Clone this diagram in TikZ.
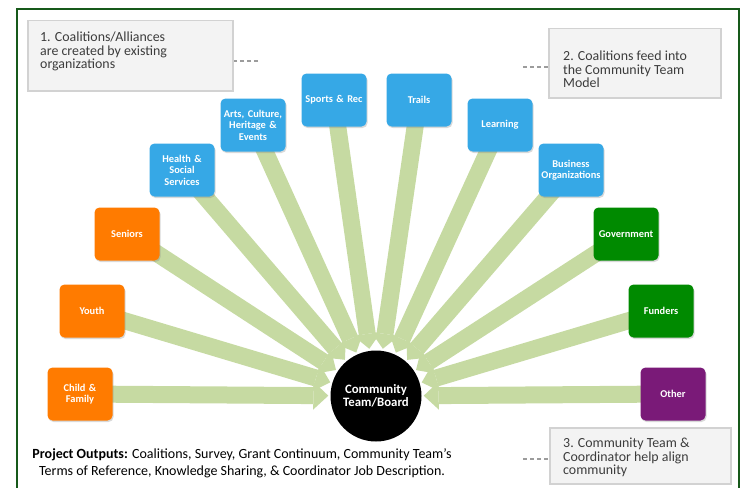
\documentclass[tikz,border=0pt]{standalone}
\usepackage{fontspec}
\setmainfont{Carlito}
\usetikzlibrary{arrows.meta,shadows,backgrounds}
\definecolor{framegreen}{HTML}{17591A}
\definecolor{orangebox}{HTML}{FF7B00}
\definecolor{bluebox}{HTML}{36A8E6}
\definecolor{greenbox}{HTML}{008A00}
\definecolor{purplebox}{HTML}{7A1A78}
\definecolor{feedgreen}{HTML}{C6DAA2}
\definecolor{notefill}{HTML}{F3F3F3}
\definecolor{noteline}{HTML}{D2D2D2}
\definecolor{notefont}{HTML}{3C3C3C}
\definecolor{leadgray}{HTML}{9C9C9C}

\begin{document}
\begin{tikzpicture}[x=1pt,y=-1pt,
  grp/.style={rounded corners=5pt, minimum width=65pt, minimum height=53pt,
    text width=63pt, align=center, inner sep=1pt, text=white,
    font=\fontsize{10.4}{11.5}\selectfont\bfseries,
    drop shadow={shadow xshift=1pt, shadow yshift=-1.5pt, opacity=.3}},
  hub/.style={circle, fill=black, minimum size=91pt, text=white, align=center,
    font=\fontsize{12.8}{13}\selectfont\bfseries},
  feed/.style={draw=feedgreen, line width=17pt,
    -{Triangle[width=28pt, length=15pt, line width=0pt]}, shorten >=2pt},
  notebox/.style={draw=noteline, fill=notefill, line width=1.5pt, inner sep=0pt},
  notetext/.style={text=notefont, align=left, inner sep=0pt,
    font=\fontsize{13.9}{13.5}\selectfont},
  lead/.style={draw=leadgray, line width=1.2pt, dash pattern=on 4pt off 3pt}
]
\useasboundingbox (0,0) rectangle (743,487);
%%%FRAME
\draw[framegreen, line width=2pt] (17,9) rectangle (739,520);

%%%GROUPS
\node[grp, fill=orangebox] (child) at (80,394) {Child \&\\Family};
\node[grp, fill=orangebox] (youth) at (92,311) {Youth};
\node[grp, fill=orangebox] (seniors) at (127,234) {Seniors};
\node[grp, fill=bluebox] (health) at (182,170) {Health \&\\Social\\Services};
\node[grp, fill=bluebox] (arts) at (253,125) {Arts, Culture,\\Heritage \&\\Events};
\node[grp, fill=bluebox] (sports) at (334,100) {Sports \& Rec};
\node[grp, fill=bluebox] (trails) at (419,100) {Trails};
\node[grp, fill=bluebox] (learning) at (500,125) {Learning};
\node[grp, fill=bluebox] (business) at (571,170) {Business\\Organizations};
\node[grp, fill=greenbox] (gov) at (626,234) {Government};
\node[grp, fill=greenbox] (funders) at (661,311) {Funders};
\node[grp, fill=purplebox] (other) at (673,394) {Other};

%%%COMMUNITY TEAM
\node[hub] (team) at (376,396) {Community\\Team/Board};

%%%FEEDS
\begin{scope}[on background layer]
\foreach \g in {child,youth,seniors,health,arts,sports,trails,learning,business,gov,funders,other}
  \draw[feed] (\g.center) -- (team);
\end{scope}

%%%NOTES
\node[notebox, anchor=north west, minimum width=205pt, minimum height=70pt] (note1) at (27,20) {};
\node[notetext, anchor=west] (text1) at (40,51.5) {1. Coalitions/Alliances\\are created by existing\\organizations};
\node[notebox, anchor=north west, minimum width=172pt, minimum height=69pt] (note2) at (548,28) {};
\node[notetext, anchor=west] (text2) at (563,69.5) {2. Coalitions feed into\\the Community Team\\Model};
\node[notebox, anchor=north west, minimum width=181pt, minimum height=56pt] (note3) at (549,427) {};
\node[notetext, anchor=west] (text3) at (563,457.5) {3. Community Team \&\\Coordinator help align\\community};
\coordinate (lead1) at (258,61);
\coordinate (lead2) at (523,67);
\coordinate (lead3) at (523,459);
\draw[lead] (lead1) -- (lead1 -| note1.east);
\draw[lead] (lead2) -- (lead2 -| note2.west);
\draw[lead] (lead3) -- (lead3 -| note3.west);

%%%OUTPUTS
\node[align=center, inner sep=0pt, font=\fontsize{14}{17}\selectfont] (outputs) at (242,463)
  {\textbf{Project Outputs:} Coalitions, Survey, Grant Continuum, Community Team’s\\
   Terms of Reference, Knowledge Sharing, \& Coordinator Job Description.};
\end{tikzpicture}
\end{document}
